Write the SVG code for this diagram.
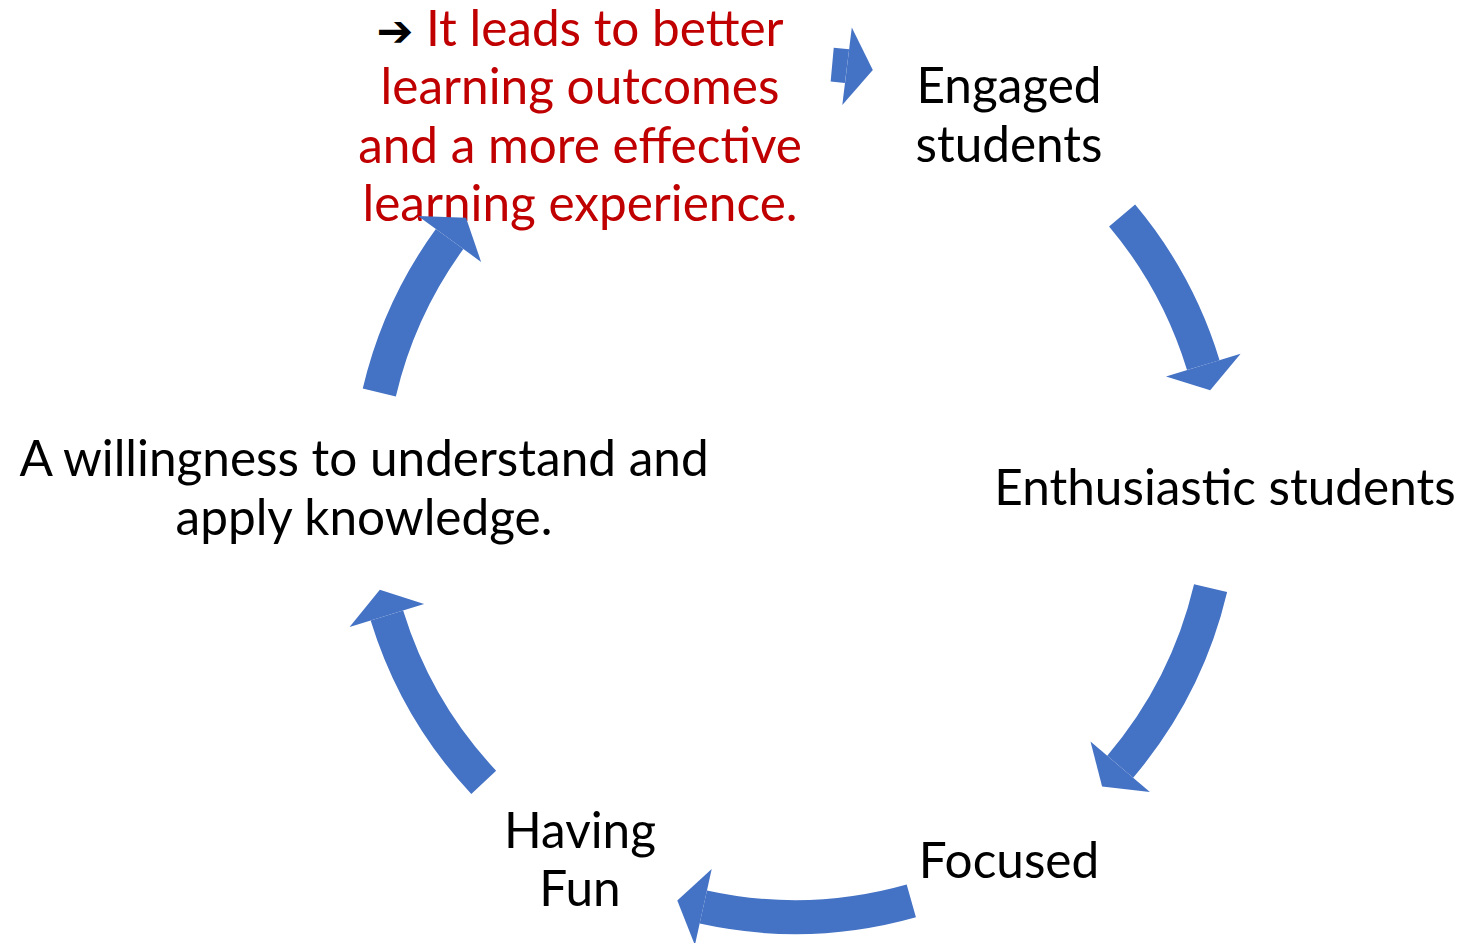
<svg xmlns="http://www.w3.org/2000/svg" width="1460" height="943" viewBox="0 0 1460 943">
  <style>
    .lbl { font-family: Lato, "Liberation Sans", sans-serif; font-size: 49.5px; fill: #000000; text-anchor: middle; }
    .red { fill: #C00000; }
    .sym { font-family: "DejaVu Sans", sans-serif; fill: #000000; font-size: 44px; font-weight: bold; }
    .shaft { fill: none; stroke: #4472C4; stroke-width: 34; stroke-linecap: butt; }
    .head { fill: #4472C4; stroke: none; }
  </style>
  <rect width="1460" height="943" fill="#ffffff"/>

  <!-- cycle steps, clockwise from the top -->
  <g id="node-outcome">
    <text class="lbl red" x="580" y="46"><tspan class="sym">➔</tspan> It leads to better</text>
    <text class="lbl red" x="580" y="104">learning outcomes</text>
    <text class="lbl red" x="580" y="163">and a more effective</text>
    <text class="lbl red" x="580" y="221">learning experience.</text>
  </g>
  <g id="node-engaged">
    <text class="lbl" x="1009" y="103">Engaged</text>
    <text class="lbl" x="1009" y="162">students</text>
  </g>
  <g id="node-enthusiastic">
    <text class="lbl" x="1225" y="505">Enthusiastic students</text>
  </g>
  <g id="node-focused">
    <text class="lbl" x="1009" y="878">Focused</text>
  </g>
  <g id="node-fun">
    <text class="lbl" x="580" y="848">Having</text>
    <text class="lbl" x="580" y="906">Fun</text>
  </g>
  <g id="node-willingness">
    <text class="lbl" x="364" y="476">A willingness to understand and</text>
    <text class="lbl" x="364" y="535">apply knowledge.</text>
  </g>

  <!-- curved arrows on a circle centred at (795,490), r = 427 -->
  <g id="connectors">
    <path class="shaft" d="M1122.1,215.5 A427,427 0 0 1 1203.3,365.1"/>
    <polygon class="head" points="1166.0,376.6 1240.6,353.7 1210.2,390.3"/>

    <path class="shaft" d="M1210.6,588.2 A427,427 0 0 1 1120.2,766.7"/>
    <polygon class="head" points="1090.5,741.5 1149.9,792.0 1102.1,786.6"/>

    <path class="shaft" d="M911.3,900.9 A427,427 0 0 1 703.3,907.0"/>
    <polygon class="head" points="711.7,869.0 694.9,945.1 677.3,900.5"/>

    <path class="shaft" d="M483.7,782.3 A427,427 0 0 1 386.9,615.5"/>
    <polygon class="head" points="424.1,604.1 349.6,627.0 379.8,589.7"/>

    <path class="shaft" d="M379.3,392.5 A427,427 0 0 1 449.6,239.0"/>
    <polygon class="head" points="481.1,261.9 418.0,216.1 466.0,217.8"/>

    <path class="shaft" d="M832.2,64.6 A427,427 0 0 1 847.0,66.2"/>
    <polygon class="head" points="842.3,104.9 851.8,27.5 872.8,70.1"/>
  </g>
</svg>
